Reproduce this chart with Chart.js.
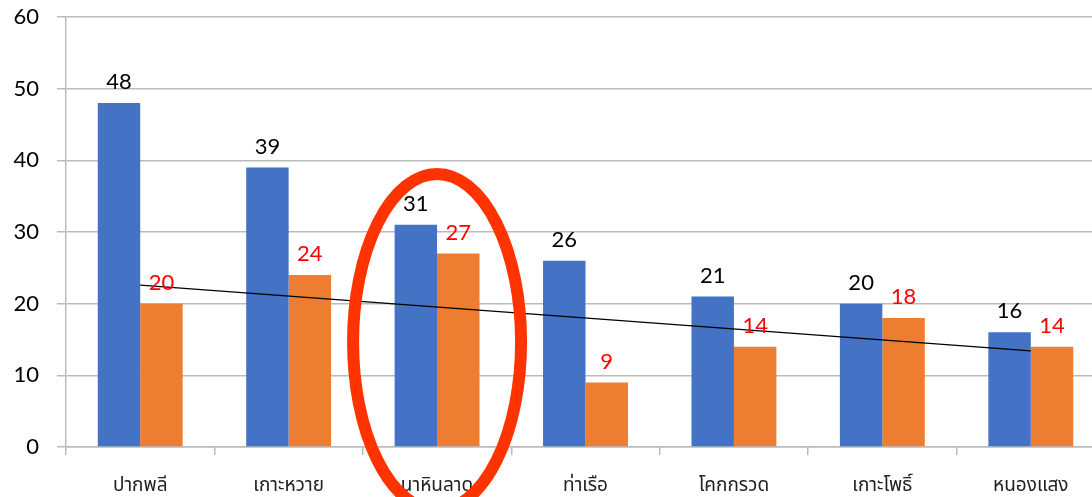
<!DOCTYPE html>
<html>
<head>
<meta charset="utf-8">
<script src="https://cdn.jsdelivr.net/npm/chart.js@4.4.1/dist/chart.umd.min.js"></script>
<style>
  html, body { margin: 0; padding: 0; background: #fff; overflow: hidden; }
  #wrap { position: relative; width: 1105px; height: 497px; }
</style>
</head>
<body>
<div id="wrap"><canvas id="c"></canvas></div>
<script>
const categories = ['ปากพลี', 'เกาะหวาย', 'นาหินลาด', 'ท่าเรือ', 'โคกกรวด', 'เกาะโพธิ์', 'หนองแสง'];
const seriesBlue = [48, 39, 31, 26, 21, 20, 16];
const seriesOrange = [20, 24, 27, 9, 14, 18, 14];
// trendline: start and end only
const trendValues = [22.6, null, null, null, null, null, 13.4];
const yTicks = [0, 10, 20, 30, 40, 50, 60];
const highlightIndex = 2;

const NUM_FONT = 'Lato, "Open Sans", "Liberation Sans", sans-serif';
const THAI_FONT = '"Noto Sans Thai", "Noto Sans", "DejaVu Sans", sans-serif';

const labelsPlugin = {
  id: 'valueLabels',
  afterDatasetsDraw(chart) {
    const ctx = chart.ctx;
    ctx.save();
    ctx.font = '22px ' + NUM_FONT;
    ctx.textAlign = 'center';
    ctx.textBaseline = 'middle';
    [0, 1].forEach(di => {
      const meta = chart.getDatasetMeta(di);
      const ds = chart.data.datasets[di];
      ctx.fillStyle = di === 0 ? '#000000' : '#FF0000';
      meta.data.forEach((bar, i) => {
        ctx.fillText(String(ds.data[i]), bar.x, bar.y - 21);
      });
    });
    ctx.restore();
  }
};

const ellipsePlugin = {
  id: 'ellipse',
  afterDraw(chart) {
    const ctx = chart.ctx;
    const x = chart.scales.x.getPixelForValue(highlightIndex);
    ctx.save();
    ctx.beginPath();
    ctx.ellipse(x, 342, 84, 168, 0, 0, Math.PI * 2);
    ctx.lineWidth = 12;
    ctx.strokeStyle = '#FF3300';
    ctx.stroke();
    ctx.restore();
  }
};

new Chart(document.getElementById('c'), {
  type: 'bar',
  data: {
    labels: categories,
    datasets: [
      { label: 'A', data: seriesBlue, backgroundColor: '#4472C4', barPercentage: 1, categoryPercentage: 0.572, order: 2 },
      { label: 'B', data: seriesOrange, backgroundColor: '#ED7D31', barPercentage: 1, categoryPercentage: 0.572, order: 2 },
      { type: 'line', label: 'trend', data: trendValues, borderColor: '#000000', borderWidth: 1.3,
        pointRadius: 0, spanGaps: true, fill: false, order: 1 }
    ]
  },
  options: {
    responsive: true,
    maintainAspectRatio: false,
    animation: false,
    layout: { padding: { top: 17, right: 0, left: 0, bottom: 0 } },
    plugins: { legend: { display: false }, tooltip: { enabled: false } },
    scales: {
      x: {
        grid: { drawOnChartArea: false, drawTicks: true, tickLength: 8, color: '#BBBBBB', lineWidth: 1.5 },
        border: { display: true, color: '#BBBBBB', width: 1.5 },
        ticks: { color: '#222', font: { family: THAI_FONT, size: 19 }, padding: 21, maxRotation: 0 },
        afterFit(scale) { scale.height = 50; }
      },
      y: {
        min: 0, max: 60,
        afterBuildTicks(scale) { scale.ticks = yTicks.map(v => ({ value: v })); },
        grid: { color: '#BBBBBB', lineWidth: 1.5, tickLength: 9 },
        border: { display: true, color: '#BBBBBB', width: 1.5 },
        ticks: { color: '#000', font: { family: NUM_FONT, size: 22 }, padding: 18 },
        afterFit(scale) { scale.width = 66; scale.paddingTop = 0; scale.paddingBottom = 0; }
      }
    }
  },
  plugins: [labelsPlugin, ellipsePlugin]
});
</script>
</body>
</html>
